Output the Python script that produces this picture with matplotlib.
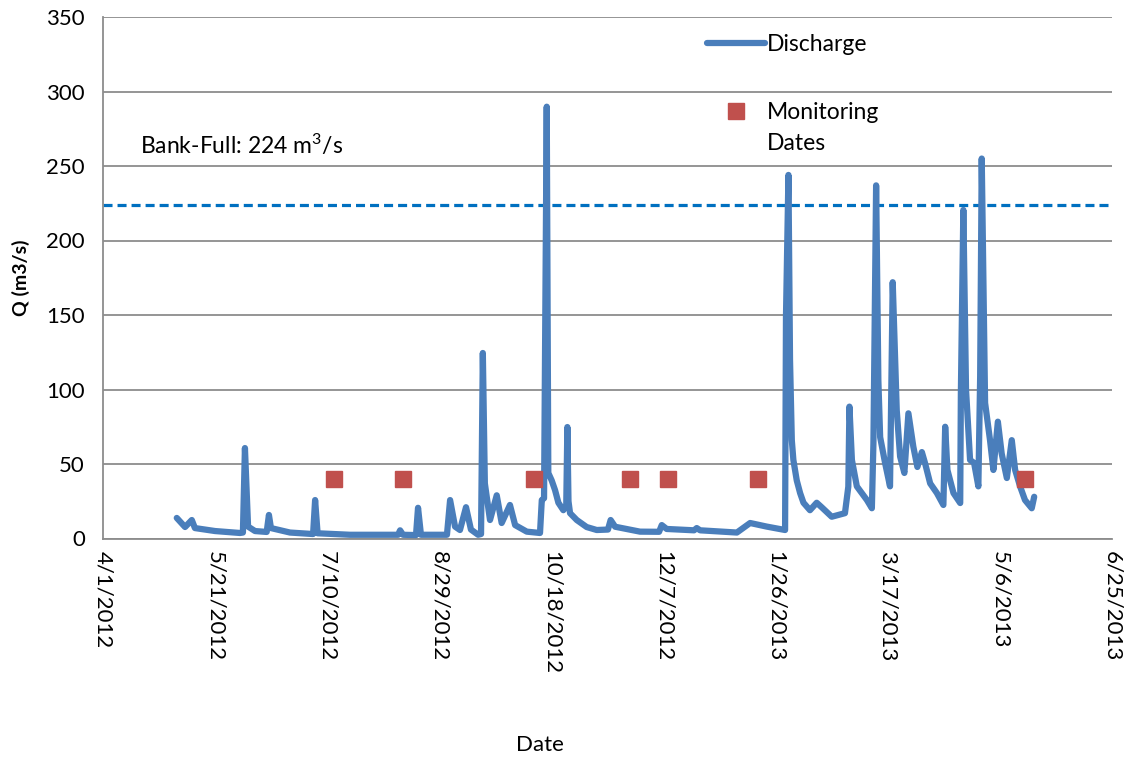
import matplotlib
matplotlib.use("Agg")
import matplotlib.pyplot as plt
import numpy as np
import pandas as pd

plt.rcParams['font.family'] = ['Lato', 'DejaVu Sans']
plt.rcParams['mathtext.default'] = 'regular'
plt.rcParams['lines.scale_dashes'] = False

# discharge: days after 4/1/2012 and Q (m3/s)
start = pd.Timestamp('2012-04-01')
q_days = [32.9, 36.6, 39.6, 41.0, 50.0, 61.1, 62.4, 63.3, 64.7, 67.8, 73.0, 74.0, 74.9, 83.4,
          93.7, 94.6, 95.7, 110.2, 131.6, 132.5, 133.8, 139.6, 140.5, 141.8, 153.4, 154.8,
          157.0, 159.2, 161.9, 164.1, 167.3, 168.6, 169.4, 170.3, 172.6, 175.6, 177.8, 181.5,
          183.8, 189.0, 194.9, 195.7, 196.7, 197.9, 198.6, 200.1, 201.6, 203.1, 205.3, 206.6,
          207.1, 207.6, 208.3, 211.3, 215.7, 220.2, 225.2, 226.4, 228.4, 239.5, 248.0, 249.2,
          251.4, 263.6, 264.8, 266.3, 282.7, 288.6, 296.0, 304.2, 304.6, 305.7, 306.4, 307.2,
          307.9, 309.4, 310.9, 312.4, 315.3, 318.3, 320.5, 325.0, 330.9, 332.4, 332.9, 334.0,
          336.2, 340.7, 342.9, 343.6, 344.8, 345.8, 346.6, 348.8, 351.0, 352.2, 354.0, 355.5,
          357.4, 359.2, 361.4, 363.2, 365.2, 366.6, 368.9, 371.9, 374.8, 375.6, 376.6, 379.3,
          382.3, 382.6, 383.7, 384.9, 386.7, 388.5, 390.4, 391.2, 391.9, 393.4, 395.6, 397.1,
          399.1, 400.8, 403.1, 405.3, 406.8, 409.0, 411.2, 414.2, 415.3]
q_vals = [13.8, 7.7, 12.4, 7.0, 5.0, 3.7, 4.0, 60.7, 8.0, 5.0, 4.4, 15.8, 7.0, 4.0,
          3.0, 25.8, 3.5, 2.5, 2.5, 5.5, 2.5, 2.3, 20.6, 2.5, 2.5, 25.8,
          8.0, 5.7, 21.0, 6.0, 2.5, 3.0, 124.5, 37.0, 12.4, 29.0, 10.4, 22.5,
          9.0, 4.6, 3.7, 25.8, 27.0, 289.8, 44.0, 39.0, 32.5, 24.0, 19.0, 22.0,
          74.8, 25.0, 17.0, 12.4, 7.7, 5.7, 6.0, 12.4, 7.9, 4.6, 4.5, 9.0,
          6.4, 5.5, 7.0, 5.5, 4.0, 10.4, 8.0, 5.7, 149.0, 244.0, 120.0, 66.0,
          52.7, 39.0, 30.5, 24.0, 19.0, 24.0, 21.0, 14.6, 17.0, 34.8, 88.5, 52.7,
          35.0, 25.8, 20.3, 64.0, 237.0, 106.0, 68.0, 50.7, 35.0, 172.0, 86.0, 55.0,
          44.0, 84.0, 61.6, 48.0, 58.0, 50.7, 37.0, 30.5, 22.5, 75.0, 46.0, 30.5,
          23.8, 97.6, 220.5, 99.7, 52.7, 50.7, 35.0, 108.6, 255.0, 91.0, 66.0, 46.0,
          78.4, 57.0, 40.6, 66.0, 46.0, 35.0, 25.8, 20.3, 28.0]

monitor_dates = ['2012-07-13', '2012-08-13', '2012-10-10', '2012-11-22', '2012-12-09',
                 '2013-01-18', '2013-05-17']
monitor_q = [40, 40, 40, 40, 40, 40, 40]

bankfull = 224
tick_dates = pd.date_range('2012-04-01', periods=10, freq='50D')

q_dates = start + pd.to_timedelta(q_days, unit='D')

fig = plt.figure(figsize=(11.34, 7.59), dpi=100)
ax = fig.add_axes([103/1134, 1 - 538.5/759, (1112 - 103)/1134, (538.5 - 17)/759])

ax.plot(q_dates, q_vals, color='#4A7EBB', lw=4.5, solid_joinstyle='round',
        solid_capstyle='round', label='Discharge', zorder=3)
ax.plot(pd.to_datetime(monitor_dates), monitor_q, ls='none', marker='s', ms=11,
        color='#C0504D', label='Monitoring', zorder=4)
ax.axhline(bankfull, color='#0070C0', lw=2.3, ls=(0, (6.5, 3.6)), zorder=2)

ax.set_xlim(tick_dates[0], tick_dates[-1])
ax.set_ylim(0, 350)
ax.set_yticks(np.arange(0, 351, 50))
ax.set_xticks(tick_dates)
ax.set_xticklabels([f'{d.month}/{d.day}/{d.year}' for d in tick_dates], rotation=270,
                   fontsize=16, va='top', ha='center')
ax.tick_params(axis='y', labelsize=16, length=0, pad=13)
ax.tick_params(axis='x', length=0, pad=9)
ax.grid(axis='y', color='#8C8C8C', lw=1.3)
ax.set_axisbelow(True)
for s in ['top', 'right']:
    ax.spines[s].set_visible(False)
for s in ['left', 'bottom']:
    ax.spines[s].set_color('#8C8C8C')
    ax.spines[s].set_linewidth(1.3)

ax.set_ylabel('Q (m3/s)', fontsize=14, fontweight='bold', labelpad=12)
fig.text(540/1134, 1 - 745/759, 'Date', fontsize=16, ha='center', va='center')
ax.text(37/1009, (538.5 - 145)/521.5, 'Bank-Full: 224 m$^3$/s', transform=ax.transAxes,
        fontsize=16.5, va='center', ha='left')

ax.legend(loc='upper left', bbox_to_anchor=(0.59, 0.985), frameon=False, fontsize=16.5,
          handlelength=2.5, handletextpad=0.1, labelspacing=2.05, borderaxespad=0)
# second line of the legend label sits under "Monitoring"
ax.text((767 - 103)/1009, (538.5 - 143)/521.5, 'Dates', transform=ax.transAxes,
        fontsize=16.5, va='center', ha='left')

fig.savefig('out.png', dpi=100)
